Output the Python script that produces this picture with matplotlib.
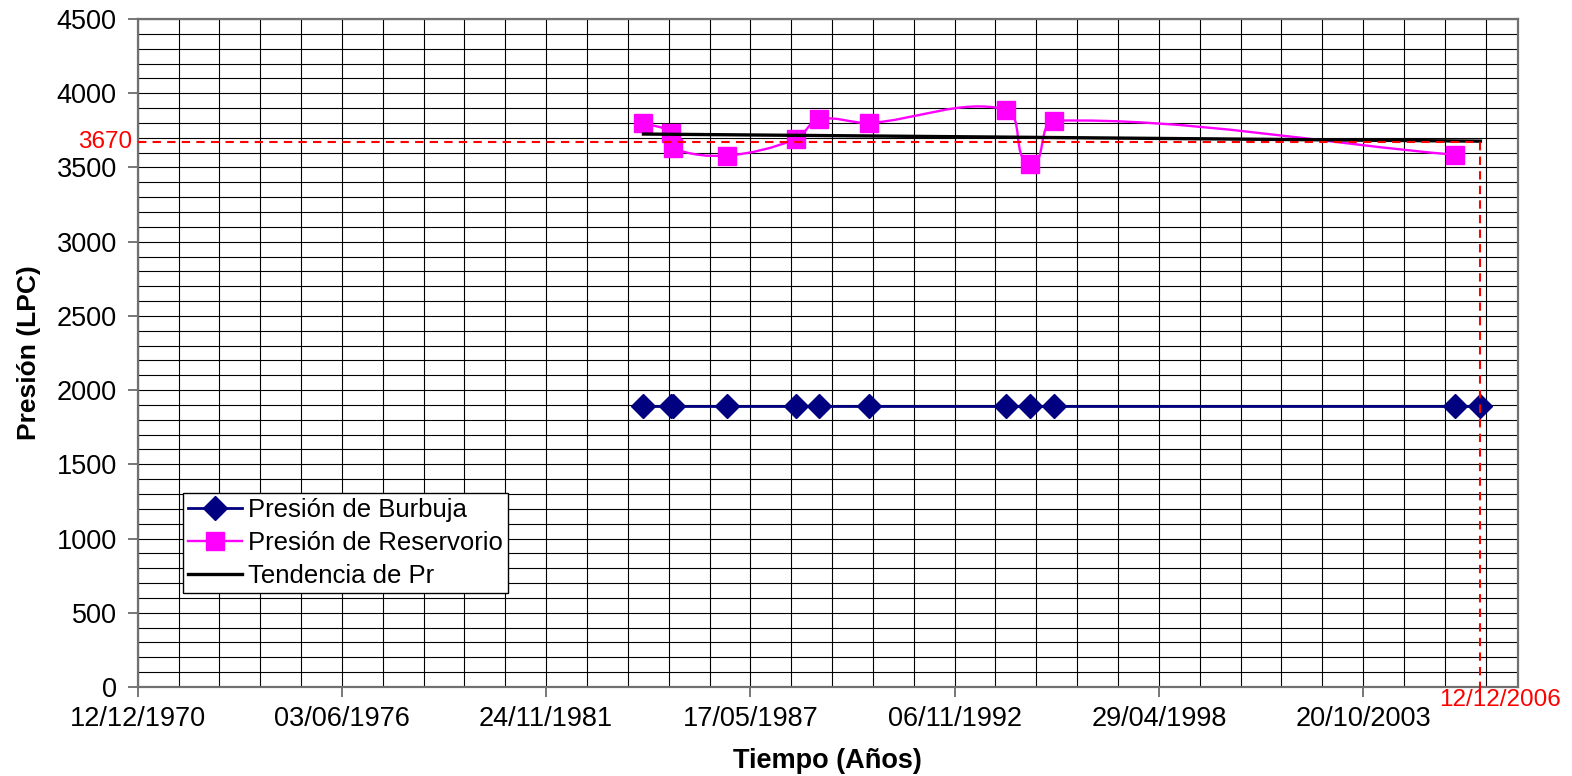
import numpy as np
import matplotlib
matplotlib.use('Agg')
import matplotlib.pyplot as plt
import matplotlib.dates as mdates
from matplotlib.path import Path
from matplotlib.patches import PathPatch
from matplotlib.ticker import MultipleLocator, FixedLocator
from matplotlib.lines import Line2D

plt.rcParams['font.family'] = ['Liberation Sans', 'DejaVu Sans']

# fechas de las pruebas de presión
fechas_pr = ['1984-07-04', '1985-04-02', '1985-04-22', '1986-09-29', '1988-08-01',
             '1989-03-18', '1990-07-22', '1994-03-20', '1994-11-17', '1995-07-10',
             '2006-04-11']
pres_reservorio = [3800, 3735, 3630, 3580, 3690, 3825, 3800, 3890, 3525, 3815, 3585]

fechas_pb = ['1984-07-04', '1985-04-02', '1985-04-22', '1986-09-29', '1988-08-01',
             '1989-03-18', '1990-07-22', '1994-03-20', '1994-11-17', '1995-07-10',
             '2006-04-11', '2006-12-12']
pres_burbuja = [1890, 1890, 1890, 1890, 1890, 1890, 1890, 1890, 1890, 1890, 1890, 1890]

fechas_tend = ['1984-07-04', '2006-12-12']
tendencia = [3725, 3677]

pr_actual = 3670
fecha_actual = '2006-12-12'
fecha_ini = '1970-12-12'
fecha_fin = '2007-12-12'


def fechas(lista):
    return mdates.date2num(np.array(lista, dtype='datetime64[D]'))


def curva_suave(ax, x, y, k=1 / 3.0):
    # linea suavizada: bezier cubica, tangente = direccion entre vecinos,
    # largo proporcional al tramo (en pixeles para no deformar)
    ax.figure.canvas.draw()
    t = ax.transData
    pts = t.transform(np.column_stack([x, y]))
    n = len(pts)
    tang = []
    for i in range(n):
        d = pts[min(i + 1, n - 1)] - pts[max(i - 1, 0)]
        tang.append(d / np.hypot(*d))
    verts = [pts[0]]
    codes = [Path.MOVETO]
    for i in range(n - 1):
        p1, p2 = pts[i], pts[i + 1]
        L = np.hypot(*(p2 - p1)) * k
        verts += [p1 + tang[i] * L, p2 - tang[i + 1] * L, p2]
        codes += [Path.CURVE4] * 3
    verts = t.inverted().transform(np.array(verts))
    return Path(verts, codes)


x_pr = fechas(fechas_pr)
x_pb = fechas(fechas_pb)
x_tend = fechas(fechas_tend)
x_act = fechas([fecha_actual])[0]
x0, x1 = fechas([fecha_ini, fecha_fin])

fig = plt.figure(figsize=(15.72, 7.76), dpi=100)
ax = fig.add_axes([137.7 / 1572, 89 / 776, 1380 / 1572, 668 / 776])
ax.set_xlim(x0, x1)
ax.set_ylim(0, 4500)

azul = '#000080'
rosa = '#FF00FF'

ax.plot(x_pb, pres_burbuja, color=azul, lw=2, marker='D', ms=12, mec=azul, mfc=azul, zorder=4)

ax.add_patch(PathPatch(curva_suave(ax, x_pr, pres_reservorio), fill=False, ec=rosa, lw=1.7, zorder=4))
ax.plot(x_pr, pres_reservorio, ls='none', marker='s', ms=12.5, color=rosa, zorder=5)

ax.plot(x_tend, tendencia, color='black', lw=2.4, zorder=6)

# referencia de presión actual
ax.plot([x0, x_act], [pr_actual, pr_actual], color='red', lw=1.5, dashes=(4, 3), zorder=7, clip_on=False)
ax.plot([x_act, x_act], [pr_actual, -40], color='red', lw=1.5, dashes=(4, 3), zorder=7, clip_on=False)
ax.text(-0.004, pr_actual, str(pr_actual), transform=ax.get_yaxis_transform(),
        ha='right', va='center', color='red', fontsize=17.5)
ax.annotate('12/12/2006', xy=(x_act, 0), xycoords=('data', 'axes fraction'),
            xytext=(14, -9.5), textcoords='offset points', ha='center', va='center',
            color='red', fontsize=17.5, annotation_clip=False)

dias = np.datetime64(fecha_ini)
ax.xaxis.set_major_locator(FixedLocator(mdates.date2num(dias + np.arange(0, 13001, 2000))))
ax.xaxis.set_minor_locator(FixedLocator(mdates.date2num(dias + np.arange(0, 13518, 400))))
ax.xaxis.set_major_formatter(mdates.DateFormatter('%d/%m/%Y'))
ax.yaxis.set_major_locator(MultipleLocator(500))
ax.yaxis.set_minor_locator(MultipleLocator(100))

ax.grid(True, which='both', color='black', lw=0.8)
ax.set_axisbelow(True)
ax.tick_params(which='major', length=7, width=1.2, color='#606060', labelsize=19.5, pad=7)
ax.tick_params(axis='y', which='major', pad=8)
ax.tick_params(which='minor', length=0)
for s in ax.spines.values():
    s.set_color('#707070')
    s.set_linewidth(1.6)

ax.set_xlabel('Tiempo (Años)', fontsize=19.5, fontweight='bold', labelpad=11)
ax.set_ylabel('Presión (LPC)', fontsize=19, fontweight='bold', labelpad=11)

handles = [
    Line2D([], [], color=azul, lw=2, marker='D', ms=12, mfc=azul, mec=azul),
    Line2D([], [], color=rosa, lw=1.7, marker='s', ms=12.5),
    Line2D([], [], color='black', lw=2.4),
]
leg = ax.legend(handles, ['Presión de Burbuja', 'Presión de Reservorio', 'Tendencia de Pr'],
                loc='lower left', bbox_to_anchor=(0.0328, 0.1407), borderaxespad=0,
                fontsize=18.5, numpoints=1, handlelength=2.1, handletextpad=0.25,
                labelspacing=0.34, borderpad=0.2, fancybox=False, framealpha=1,
                edgecolor='black')
leg.get_frame().set_linewidth(1.0)
leg.set_zorder(10)

fig.savefig('out.png', dpi=100)
